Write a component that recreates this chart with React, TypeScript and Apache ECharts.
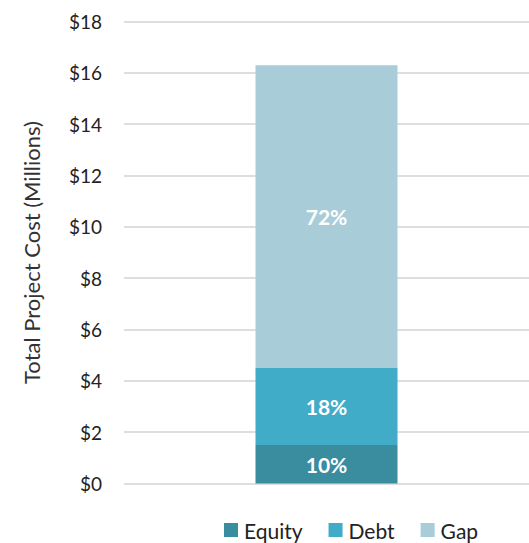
import React, { useEffect, useRef } from "react";
import * as echarts from "echarts";

const categories = ["Project"];
const seriesNames = ["Equity", "Debt", "Gap"];
const equityValues = [1.5];
const debtValues = [3.0];
const gapValues = [11.8];
const percentLabels = ["10%", "18%", "72%"];
const colors = ["#3A8C9F", "#41ACC8", "#A8CDD9"];

export default function App() {
  const ref = useRef<HTMLDivElement>(null);
  useEffect(() => {
    if (!ref.current) return;
    const chart = echarts.init(ref.current, null, { renderer: "svg" });
    const data = [equityValues, debtValues, gapValues];
    chart.setOption({
      animation: false,
      textStyle: { fontFamily: "Lato" },
      grid: { left: 124, right: 0, top: 21.5, bottom: 59.5 },
      legend: {
        data: seriesNames,
        left: 219,
        top: 514,
        itemWidth: 14,
        itemHeight: 14,
        itemGap: 26,
        icon: "rect",
        textStyle: { fontSize: 21, lineHeight: 22, color: "#222", fontFamily: "Lato", padding: [0, 0, 0, 1] },
      },
      xAxis: {
        type: "category",
        data: categories,
        axisLine: { show: false },
        axisTick: { show: false },
        axisLabel: { show: false },
      },
      yAxis: {
        type: "value",
        min: 0,
        max: 18,
        interval: 2,
        name: "Total Project Cost (Millions)",
        nameLocation: "middle",
        nameGap: 82,
        nameTextStyle: { fontSize: 22, color: "#333", fontFamily: "Lato" },
        axisLine: { show: false },
        axisTick: { show: false },
        axisLabel: {
          formatter: "${value}",
          fontSize: 19,
          color: "#222",
          margin: 22,
          fontFamily: "Lato",
        },
        splitLine: { lineStyle: { color: "#dedede", width: 2 } },
      },
      series: seriesNames.map((name, i) => ({
        name,
        type: "bar",
        stack: "total",
        barWidth: 142,
        data: data[i],
        itemStyle: { color: colors[i] },
        label: {
          show: true,
          position: "inside",
          formatter: () => percentLabels[i],
          color: "#fff",
          fontWeight: "bold",
          fontSize: 21,
          fontFamily: "Lato",
        },
      })),
    });
    return () => chart.dispose();
  }, []);
  return <div ref={ref} style={{ width: 529, height: 543, position: "absolute", left: 0, top: 0 }} />;
}
